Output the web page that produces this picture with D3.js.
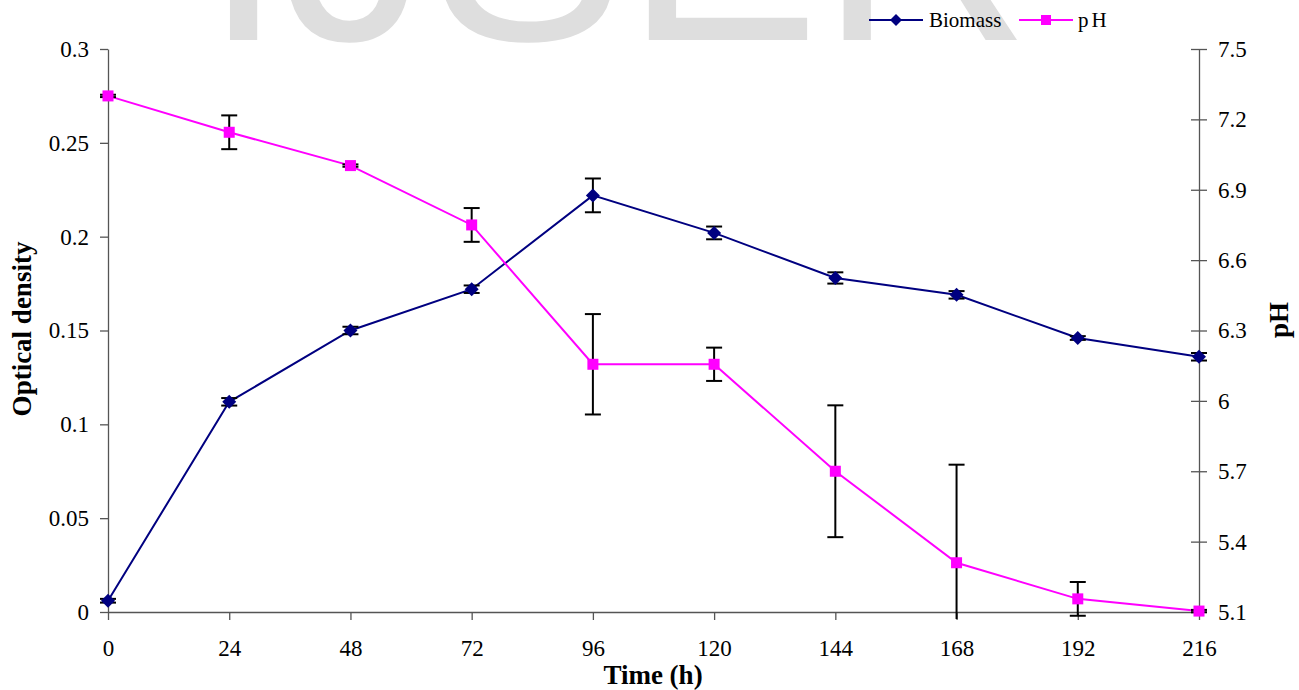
<!DOCTYPE html>
<html>
<head>
<meta charset="utf-8">
<script src="https://cdn.jsdelivr.net/npm/d3@7"></script>
<style>
  html, body { margin: 0; padding: 0; background: #fff; }
  svg { display: block; }
  .axis path, .axis line { stroke: #555; stroke-width: 1.3; }
  .title { font-family: "Liberation Serif", "Times New Roman", serif; font-size: 27px; font-weight: bold; fill: #000; }
  .legend text { font-family: "Liberation Serif", "Times New Roman", serif; font-size: 21px; fill: #000; }
</style>
</head>
<body>
<svg id="chart" width="1299" height="690"></svg>
<script>
// time points (h)
const times = [0, 24, 48, 72, 96, 120, 144, 168, 192, 216];

// optical density (left axis)
const biomass    = [0.006, 0.112, 0.150, 0.172, 0.222, 0.202, 0.178, 0.169, 0.146, 0.136];
const biomassErr = [0.001, 0.002, 0.002, 0.002, 0.009, 0.0034, 0.003, 0.002, 0.001, 0.002];

// pH (right axis)
const ph    = [7.30, 7.145, 7.003, 6.75, 6.156, 6.156, 5.70, 5.31, 5.156, 5.104];
const phErr = [0.005, 0.072, 0.005, 0.072, 0.214, 0.071, 0.281, 0.418, 0.072, 0.005];

// tick labels
const xTicks = [0, 24, 48, 72, 96, 120, 144, 168, 192, 216];
const odTicks = [0, 0.05, 0.1, 0.15, 0.2, 0.25, 0.3];
const phTicks = [5.1, 5.4, 5.7, 6, 6.3, 6.6, 6.9, 7.2, 7.5];

const svg = d3.select("#chart");

const x = d3.scaleLinear().domain([0, 216]).range([108, 1199]);
const yL = d3.scaleLinear().domain([0, 0.3]).range([612, 49]);
const yR = d3.scaleLinear().domain([5.1, 7.5]).range([612, 49]);

// watermark
svg.append("text")
    .attr("x", 203)
    .attr("y", 40)
    .attr("font-family", "Liberation Sans, Arial, sans-serif")
    .attr("font-size", 292)
    .attr("fill", "#dedede")
    .text("IJSER");

function styleAxis(g) {
    g.attr("font-family", "Liberation Serif, Times New Roman, serif")
     .attr("font-size", 23);
    g.selectAll("text")
        .attr("font-family", "Liberation Serif, Times New Roman, serif")
        .attr("font-size", 23)
        .attr("fill", "#000");
}

// axes
svg.append("g")
    .attr("class", "axis")
    .attr("transform", "translate(0,612)")
    .call(d3.axisBottom(x).tickValues(xTicks).tickSize(8).tickSizeOuter(0).tickPadding(20))
    .call(styleAxis);

svg.append("g")
    .attr("class", "axis")
    .attr("transform", "translate(108,0)")
    .call(d3.axisLeft(yL).tickValues(odTicks).tickSize(8).tickSizeOuter(0).tickPadding(11)
        .tickFormat(d => d3.format("~g")(d)))
    .call(styleAxis);

const rightAxis = svg.append("g")
    .attr("class", "axis")
    .attr("transform", "translate(1199,0)")
    .call(d3.axisRight(yR).tickValues(phTicks).tickSize(8).tickSizeOuter(0).tickPadding(11)
        .tickFormat(d => d3.format("~g")(d)))
    .call(styleAxis);
rightAxis.selectAll(".tick line").attr("x1", -8);

// axis titles
svg.append("text")
    .attr("class", "title")
    .attr("text-anchor", "middle")
    .attr("x", 653)
    .attr("y", 684)
    .text("Time (h)");

svg.append("text")
    .attr("class", "title")
    .attr("text-anchor", "middle")
    .attr("transform", "translate(31,329) rotate(-90)")
    .text("Optical density");

svg.append("text")
    .attr("class", "title")
    .attr("text-anchor", "middle")
    .attr("transform", "translate(1288,320) rotate(-90)")
    .text("pH");

const odData = times.map((t, i) => ({ t, v: biomass[i], e: biomassErr[i] }));
const phData = times.map((t, i) => ({ t, v: ph[i], e: phErr[i] }));

// lines
svg.append("path")
    .datum(odData)
    .attr("fill", "none")
    .attr("stroke", "#000080")
    .attr("stroke-width", 2)
    .attr("d", d3.line().x(d => x(d.t)).y(d => yL(d.v)));

svg.append("path")
    .datum(phData)
    .attr("fill", "none")
    .attr("stroke", "#ff00ff")
    .attr("stroke-width", 2)
    .attr("d", d3.line().x(d => x(d.t)).y(d => yR(d.v)));

// error bars, clipped just under the x axis
svg.append("clipPath")
    .attr("id", "plotClip")
    .append("rect")
    .attr("x", 90).attr("y", 40).attr("width", 1130).attr("height", 579);

function errorBars(data, y) {
    const g = svg.append("g")
        .attr("clip-path", "url(#plotClip)")
        .attr("stroke", "#000")
        .attr("stroke-width", 2);
    g.selectAll(".bar")
        .data(data)
        .enter()
        .append("line")
        .attr("x1", d => x(d.t)).attr("x2", d => x(d.t))
        .attr("y1", d => y(d.v - d.e)).attr("y2", d => y(d.v + d.e));
    g.selectAll(".capTop")
        .data(data)
        .enter()
        .append("line")
        .attr("x1", d => x(d.t) - 8).attr("x2", d => x(d.t) + 8)
        .attr("y1", d => y(d.v + d.e)).attr("y2", d => y(d.v + d.e));
    g.selectAll(".capBottom")
        .data(data)
        .enter()
        .append("line")
        .attr("x1", d => x(d.t) - 8).attr("x2", d => x(d.t) + 8)
        .attr("y1", d => y(d.v - d.e)).attr("y2", d => y(d.v - d.e));
}
errorBars(odData, yL);
errorBars(phData, yR);

// markers
svg.selectAll(".odMark")
    .data(odData)
    .enter()
    .append("path")
    .attr("d", "M0,-7L7,0L0,7L-7,0Z")
    .attr("transform", d => `translate(${x(d.t)},${yL(d.v)})`)
    .attr("fill", "#000080");

svg.selectAll(".phMark")
    .data(phData)
    .enter()
    .append("rect")
    .attr("x", d => x(d.t) - 5.5)
    .attr("y", d => yR(d.v) - 5.5)
    .attr("width", 11)
    .attr("height", 11)
    .attr("fill", "#ff00ff");

// legend
const legend = svg.append("g").attr("class", "legend");
legend.append("line")
    .attr("x1", 869).attr("x2", 923).attr("y1", 20).attr("y2", 20)
    .attr("stroke", "#000080").attr("stroke-width", 2);
legend.append("path")
    .attr("d", "M0,-6L6,0L0,6L-6,0Z")
    .attr("transform", "translate(896,20)")
    .attr("fill", "#000080");
legend.append("text").attr("x", 929).attr("y", 27).text("Biomass");

legend.append("line")
    .attr("x1", 1019).attr("x2", 1073).attr("y1", 20).attr("y2", 20)
    .attr("stroke", "#ff00ff").attr("stroke-width", 2);
legend.append("rect")
    .attr("x", 1041).attr("y", 15).attr("width", 10).attr("height", 10)
    .attr("fill", "#ff00ff");
legend.append("text").attr("x", 1078).attr("y", 27).attr("letter-spacing", 3).text("pH");
</script>
</body>
</html>
